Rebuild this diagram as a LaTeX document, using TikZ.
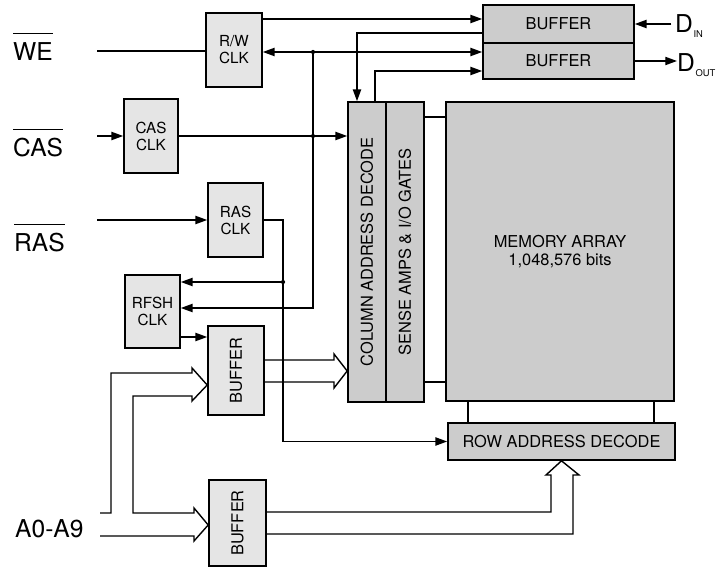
\documentclass[tikz,border=0pt]{standalone}
\usepackage{graphicx}
\usepackage{fontspec}
\setmainfont{TeX Gyre Heros}
\usetikzlibrary{arrows.meta, positioning}

\newcommand{\pxu}{0.03cm}
\newcommand{\actlow}[1]{$\overline{\mbox{\rule{0pt}{1.05em}#1}}$}
\newcommand{\dsig}[1]{D\kern0.5pt\raisebox{-4pt}{\fontsize{8}{9}\selectfont #1}}

\begin{document}
\begin{tikzpicture}[x=0.03cm, y=-0.03cm,
  wire/.style={line width=1.2pt},
  sig/.style={wire, -{Triangle[length=10pt, width=7pt]}},
  boxsize/.style 2 args={minimum width=#1*\pxu, minimum height=#2*\pxu},
  lightbox/.style={draw, line width=1.4pt, fill=black!10, inner sep=0pt, align=center, font=\fontsize{13}{14.5}\selectfont},
  darkbox/.style={lightbox, fill=black!20, font=\fontsize{14}{15.5}\selectfont},
  siglabel/.style={anchor=base west, inner sep=0pt, font=\fontsize{21}{24}\selectfont}]
\useasboundingbox (0,0) rectangle (725,568);

% clocks and buffers
\node[lightbox, boxsize={56}{74}] (rwclk) at (234,50) {R/W\\CLK};
\node[lightbox, boxsize={54}{74}] (casclk) at (151,136) {CAS\\CLK};
\node[lightbox, boxsize={55}{74}] (rasclk) at (235.5,220) {RAS\\CLK};
\node[lightbox, boxsize={55}{73}] (rfshclk) at (152.5,311.5) {RFSH\\CLK};
\node[lightbox, boxsize={56}{89}, font=\fontsize{14}{15}\selectfont] (colbuf) at (236,370.5) {\rotatebox{90}{BUFFER}};
\node[lightbox, boxsize={57}{86}, font=\fontsize{14}{15}\selectfont] (rowbuf) at (237.5,523) {\rotatebox{90}{BUFFER}};
\node[darkbox, boxsize={151}{38}] (dinbuf) at (558.5,24) {BUFFER};
\node[darkbox, boxsize={151}{36}] (doutbuf) at (558.5,61) {BUFFER};

% array
\node[darkbox, boxsize={38}{300}] (coldec) at (367,252) {\rotatebox{90}{COLUMN ADDRESS DECODE}};
\node[darkbox, boxsize={38}{300}] (sense) at (405,252) {\rotatebox{90}{SENSE AMPS \& I/O GATES}};
\node[darkbox, boxsize={228}{299}] (memarr) at (560,251.5) {MEMORY ARRAY\\1,048,576 bits};
\node[darkbox, boxsize={227}{37}] (rowdec) at (561.5,441.5) {ROW ADDRESS DECODE};

% pins
\node[siglabel] (we) at (13,61) {\actlow{WE}};
\node[siglabel] (cas) at (13,157) {\actlow{CAS}};
\node[siglabel] (ras) at (14,252) {\actlow{RAS}};
\node[siglabel] (addr) at (15,537) {A0-A9};
\node[siglabel] (din) at (675,33) {\dsig{IN}};
\node[siglabel] (dout) at (677,72) {\dsig{OUT}};

\coordinate (we-in) at (97,51);
\coordinate (cas-in) at (97,136);
\coordinate (ras-in) at (97,220);
\draw[wire] (we-in) -- (we-in -| rwclk.west);
\draw[sig] (cas-in) -- (casclk.west);
\draw[sig] (ras-in) -- (rasclk.west);

% data in/out
\draw[sig] ([xshift=-3pt]dinbuf.east -| din.west) -- (dinbuf.east);
\draw[sig] (doutbuf.east) -- (doutbuf.east -| dout.west);

% clock lines
\coordinate (rw-out) at (262,19);
\coordinate (din-tap) at (357,33);
\coordinate (dout-tap) at (375,71);
\coordinate (jtop) at (313,52);
\coordinate (jrf) at (313,308);
\draw[sig] (rw-out) -- (rw-out -| dinbuf.west);
\draw[sig] (din-tap -| dinbuf.west) -- (din-tap) -- (din-tap |- coldec.north);
\draw[sig] (dout-tap |- coldec.north) -- (dout-tap) -- (dout-tap -| doutbuf.west);
\draw[sig] (jtop) -- (jtop -| rwclk.east);
\draw[sig] (jtop) -- (jtop -| doutbuf.west);
\draw[sig] (jtop) -- (jrf) -- (jrf -| rfshclk.east);
\draw[sig] (casclk.east) -- (casclk.east -| coldec.west);
\fill (jtop) circle (1.8pt);
\fill (jtop |- casclk.east) circle (1.8pt);

\coordinate (ras-rail) at (283,220);
\coordinate (jras) at (283,282);
\draw[sig] (rasclk.east) -- (ras-rail) -- (ras-rail |- rowdec.west) -- (rowdec.west);
\draw[sig] (jras) -- (jras -| rfshclk.east);
\fill (jras) circle (1.8pt);

\coordinate (rf-out) at (180,337);
\draw[sig] (rf-out) -- (rf-out -| colbuf.west);

% sense amps / row decode to array
\foreach \y in {117,382}
  \draw[wire] (sense.east |- 0,\y) -- (memarr.west |- 0,\y);
\foreach \x in {468,654}
  \draw[wire] (memarr.south -| \x,0) -- (rowdec.north -| \x,0);

% address buses
\draw[wire] (100,513) -- (111,513) -- (111,373) -- (192,373) -- (192,368) -- (colbuf.west |- 0,385)
  -- (192,401) -- (192,396) -- (133,396) -- (133,513) -- (194,513) -- (194,508)
  -- (rowbuf.west |- 0,525) -- (194,541) -- (194,536) -- (100,536);
\draw[wire] (colbuf.east |- 0,360) -- (334,360) -- (334,354) -- (coldec.west |- 0,371)
  -- (334,388) -- (334,382) -- (colbuf.east |- 0,382);
\draw[wire] (rowbuf.east |- 0,512) -- (551,512) -- (551,475) -- (546,475) -- (rowdec.south)
  -- (579,475) -- (573,475) -- (573,534) -- (rowbuf.east |- 0,534);
\end{tikzpicture}
\end{document}
